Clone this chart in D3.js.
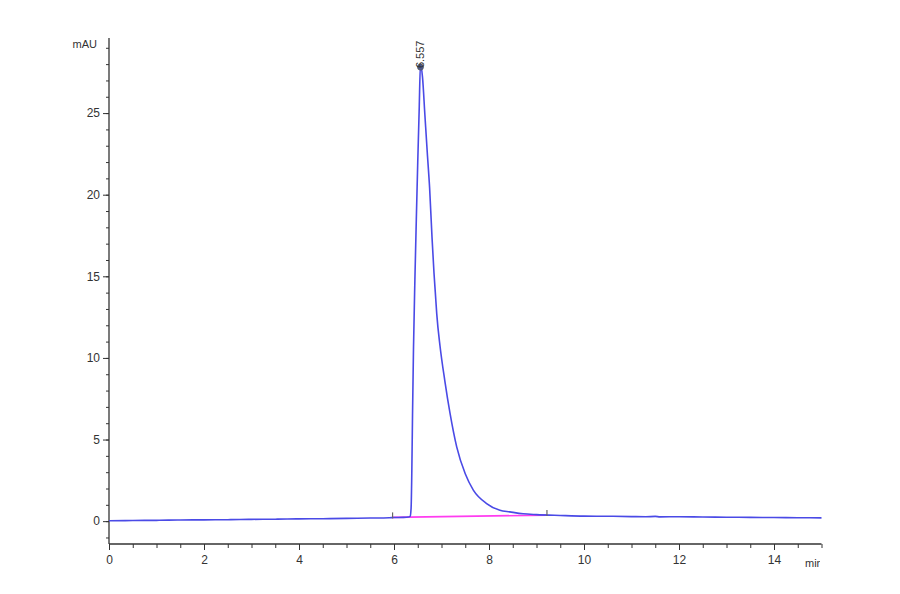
<!DOCTYPE html>
<html>
<head>
<meta charset="utf-8">
<script src="https://cdn.jsdelivr.net/npm/d3@7"></script>
<style>
  html, body { margin: 0; padding: 0; background: #fff; }
  svg text { font-family: "Liberation Sans Narrow", "Arial Narrow", "Liberation Sans", sans-serif; fill: #333; }
</style>
</head>
<body>
<svg id="chart" width="900" height="594"></svg>
<script>
// ---- data ----
const times = [0.0, 0.5, 1.0, 1.5, 2.0, 2.5, 3.0, 3.5, 4.0, 4.5, 5.0, 5.5, 5.9, 6.0, 6.2, 6.3,
  6.34, 6.36, 6.375, 6.39, 6.41, 6.44, 6.47, 6.50, 6.53, 6.557, 6.60, 6.65, 6.70, 6.75, 6.80, 6.842,
  6.87, 6.90, 6.97, 7.07, 7.18, 7.32, 7.50, 7.67, 7.95, 8.23, 8.44, 8.72, 9.0, 9.5, 10.0, 10.5,
  11.0, 11.3, 11.5, 11.6, 12.0, 12.5, 13.0, 13.5, 14.0, 14.5, 15.0];
const signal = [0.02, 0.04, 0.05, 0.07, 0.08, 0.09, 0.11, 0.12, 0.14, 0.15, 0.17, 0.19, 0.21, 0.22, 0.23, 0.25,
  0.3, 0.8, 3.0, 6.5, 10.5, 14.8, 18.5, 22.0, 25.2, 28.0, 27.2, 24.9, 22.6, 20.4, 17.4, 15.2,
  14.0, 12.7, 10.7, 8.6, 6.6, 4.55, 2.9, 1.9, 1.08, 0.67, 0.57, 0.45, 0.4, 0.35, 0.31, 0.30,
  0.28, 0.27, 0.29, 0.26, 0.27, 0.25, 0.24, 0.23, 0.22, 0.21, 0.20];
const baselineTimes = [5.97, 9.22];
const baselineValues = [0.23, 0.37];
const peakTime = 6.557;
const peakValue = 28.0;
const peakLabel = "6.557";
const xTicks = [0, 2, 4, 6, 8, 10, 12, 14];
const yTicks = [0, 5, 10, 15, 20, 25];
const yUnit = "mAU";
const xUnit = "min";

// ---- layout ----
const svg = d3.select("#chart");
const x = d3.scaleLinear().domain([0, 15]).range([109, 821.5]);
const y = d3.scaleLinear().domain([-1.4, 29.6]).range([544, 38]);
const axisColor = "#333";

// y axis
const yMinor = d3.range(-1, 30, 1);
const yAxisMinor = d3.axisLeft(y).tickValues(yMinor).tickSize(3).tickFormat("");
const gyMinor = svg.append("g").attr("transform", `translate(${x(0)},0)`).call(yAxisMinor);
gyMinor.select(".domain").remove();
gyMinor.selectAll("line").attr("stroke", axisColor);

const yAxis = d3.axisLeft(y).tickValues(yTicks).tickSize(6).tickPadding(3).tickFormat(d3.format("d"));
const gy = svg.append("g").attr("transform", `translate(${x(0)},0)`).call(yAxis);
gy.select(".domain").remove();
gy.selectAll("line").attr("stroke", axisColor);
gy.selectAll("text").attr("font-size", 12).style("fill", "#333");

svg.append("line").attr("x1", x(0)).attr("x2", x(0)).attr("y1", y(29.6)).attr("y2", y(-1.4))
  .attr("stroke", axisColor).attr("stroke-width", 1.3);

// x axis
const xMinor = d3.range(0, 15.01, 0.5);
const xAxisMinor = d3.axisBottom(x).tickValues(xMinor).tickSize(4).tickFormat("");
const gxMinor = svg.append("g").attr("transform", `translate(0,${y(-1.4)})`).call(xAxisMinor);
gxMinor.select(".domain").remove();
gxMinor.selectAll("line").attr("stroke", axisColor);

const xAxis = d3.axisBottom(x).tickValues(xTicks).tickSize(6).tickPadding(5).tickFormat(d3.format("d"));
const gx = svg.append("g").attr("transform", `translate(0,${y(-1.4)})`).call(xAxis);
gx.select(".domain").remove();
gx.selectAll("line").attr("stroke", axisColor);
gx.selectAll("text").attr("font-size", 12).style("fill", "#333");

svg.append("line").attr("x1", x(0)).attr("x2", x(15)).attr("y1", y(-1.4)).attr("y2", y(-1.4))
  .attr("stroke", axisColor).attr("stroke-width", 1.5);

// unit labels
svg.append("text").attr("x", 97).attr("y", 48).attr("text-anchor", "end")
  .attr("font-size", 11).text(yUnit);
svg.append("defs").append("clipPath").attr("id", "unitclip")
  .append("rect").attr("x", 800).attr("y", 540).attr("width", 20).attr("height", 40);
svg.append("text").attr("x", 805).attr("y", 567).attr("font-size", 11)
  .attr("clip-path", "url(#unitclip)").text(xUnit);

// integration baseline
const baseData = baselineTimes.map((t, i) => [t, baselineValues[i]]);
svg.append("path").datum(baseData)
  .attr("d", d3.line().x(d => x(d[0])).y(d => y(d[1])))
  .attr("stroke", "#ff3cf0").attr("stroke-width", 1.6).attr("fill", "none");

// signal
const data = times.map((t, i) => [t, signal[i]]);
svg.append("path").datum(data)
  .attr("d", d3.line().x(d => x(d[0])).y(d => y(d[1])).curve(d3.curveMonotoneX))
  .attr("stroke", "#4a4ae6").attr("stroke-width", 1.6).attr("fill", "none");

// integration markers
baseData.forEach(d => {
  svg.append("line").attr("x1", x(d[0])).attr("x2", x(d[0]))
    .attr("y1", y(d[1]) - 5).attr("y2", y(d[1]) + 1)
    .attr("stroke", "#666").attr("stroke-width", 1.2);
});

// peak marker + label
svg.append("circle").attr("cx", x(peakTime)).attr("cy", y(peakValue) + 3).attr("r", 3)
  .attr("fill", "#4a5a90").attr("stroke", "#555").attr("stroke-width", 0.8);
svg.append("text")
  .attr("transform", `translate(${x(peakTime) + 4},${y(peakValue) + 4}) rotate(-90)`)
  .attr("font-size", 11).text(peakLabel);
</script>
</body>
</html>
